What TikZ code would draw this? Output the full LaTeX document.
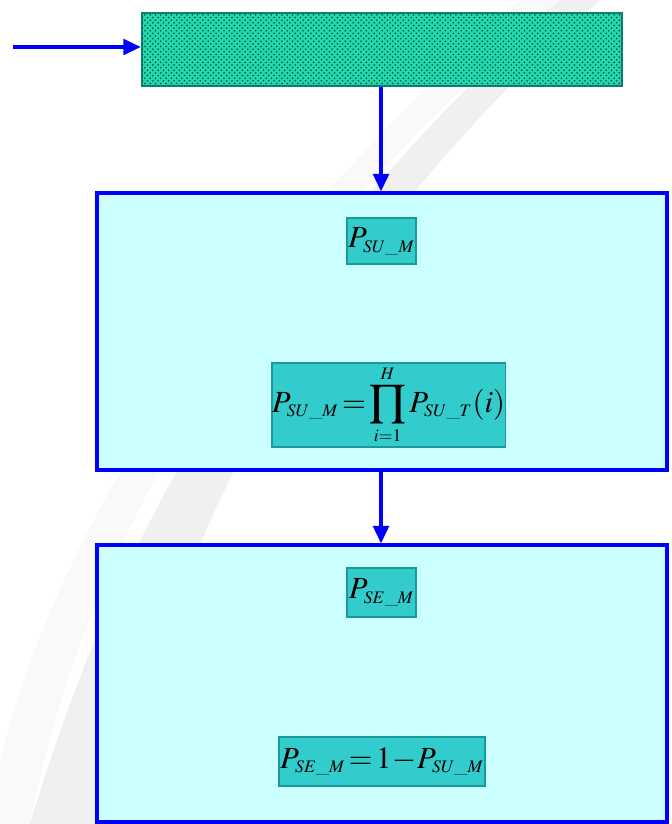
\documentclass[tikz,border=0pt]{standalone}
\usepackage{amsmath}
\usepackage{mathptmx}
\usepackage{tikz}
\usetikzlibrary{arrows.meta}
\usetikzlibrary{patterns}

\DeclareMathSizes{17.5}{17.5}{10}{8}

\definecolor{stepfill}{HTML}{CCFFFF}
\definecolor{eqfill}{HTML}{33CCCC}
\definecolor{eqline}{HTML}{1A9999}
\definecolor{topfill}{HTML}{22D8AC}
\definecolor{topdots}{HTML}{004A3C}
\definecolor{topline}{HTML}{108070}

\begin{document}
\begin{tikzpicture}[x=0.02cm, y=-0.02cm]
			\tikzset{stage/.style={shape = rectangle, draw = blue, line width = 1.8pt, fill = stepfill, minimum width = 11.4cm, minimum height = 5.54cm}}
			\tikzset{eqbox/.style={shape = rectangle, draw = eqline, line width = 0.6pt, fill = eqfill, inner sep = 0pt, font = \fontsize{17.5}{20}\selectfont}}
			\tikzset{flow/.style={draw = blue, line width = 1.8pt, -{Triangle[width = 9pt, length = 10pt]}}}
			\useasboundingbox (0, 0) rectangle (672, 824);
			%background swoosh
			\fill[gray!5] (520, 0) .. controls (230, 260) and (60, 520) .. (0, 760) -- (0, 824) -- (30, 824) .. controls (90, 520) and (260, 260) .. (560, 0) -- cycle;
			\fill[gray!12] (560, 0) .. controls (280, 250) and (120, 520) .. (30, 824) -- (110, 824) .. controls (180, 520) and (320, 250) .. (600, 0) -- cycle;
			%boxes
			\node[draw = topline, line width = 1.4pt, fill = topfill, minimum width = 9.6cm, minimum height = 1.46cm, postaction = {pattern = crosshatch dots, pattern color = topdots}] (top) at (382, 49.5) {};
			\node[stage] (mod) at (382, 331.5) {};
			\node[stage] (sec) at (382, 683.5) {};
			%equations
			\node[eqbox, minimum width = 1.38cm, minimum height = 0.92cm] (psu) at (381.5, 241) {$P_{SU\_M}$};
			\node[eqbox, minimum width = 4.38cm, minimum height = 1.68cm] (prod) at (388.5, 405) {$P_{SU\_M}\!=\!\displaystyle\prod_{i=1}^{H}P_{SU\_T}(i)$};
			\node[eqbox, minimum width = 1.38cm, minimum height = 0.98cm] (pse) at (381.5, 592.5) {$P_{SE\_M}$};
			\node[eqbox, minimum width = 4.12cm, minimum height = 0.98cm] (diff) at (382, 761.5) {$P_{SE\_M}\!=\!1\!-\!P_{SU\_M}$};
			%arrows
			\coordinate (in) at (13, 47);
			\draw[flow] (in) -- (top.west |- in);
			\draw[flow] (top.south -| 381, 0) -- (mod.north -| 381, 0);
			\draw[flow] (mod.south -| 381, 0) -- (sec.north -| 381, 0);
			\end{tikzpicture}
\end{document}
